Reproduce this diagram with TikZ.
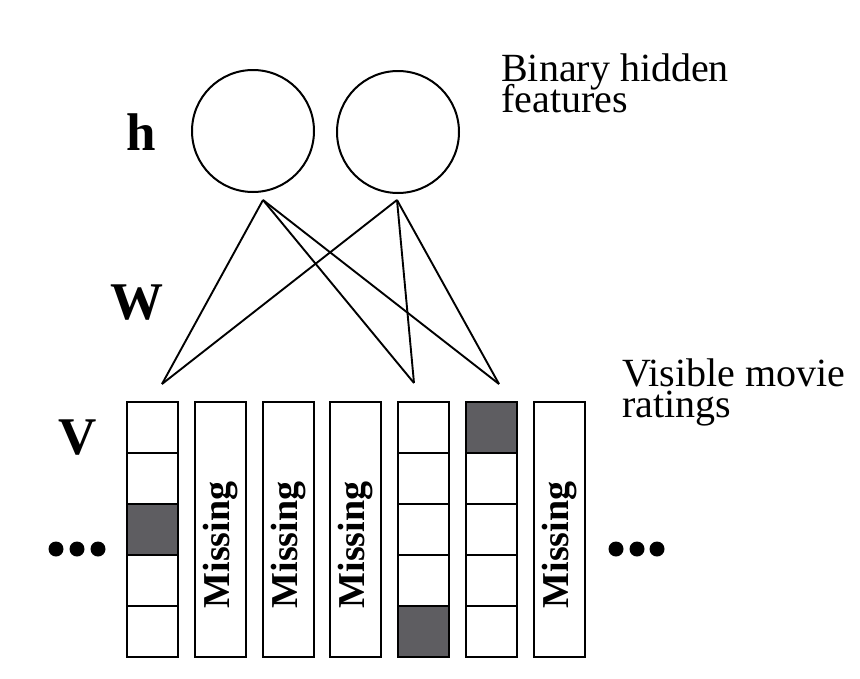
\documentclass[tikz,border=0pt]{standalone}
\usepackage{fontspec}
\setmainfont{Liberation Serif}
\definecolor{cellgray}{RGB}{94,93,97}
\newcommand\mynotefont{\fontsize{40}{30.5}\selectfont\lineskiplimit=-100pt\relax\lineskip=0pt\relax}
\begin{document}
\begin{tikzpicture}[x=1pt,y=-1pt,
  unit/.style={circle,draw,line width=2pt,minimum size=122pt,inner sep=0pt},
  cell/.style={rectangle,draw,line width=2pt,minimum width=51pt,minimum height=51pt,inner sep=0pt},
  tallcell/.style={rectangle,draw,line width=2pt,minimum width=51pt,minimum height=255pt,inner sep=0pt},
  filled/.style={fill=cellgray},
  wire/.style={line width=1.9pt,line join=miter},
  biglabel/.style={font=\bfseries\fontsize{53}{53}\selectfont,inner sep=0pt,anchor=base},
  note/.style={font=\mynotefont,align=left,inner sep=0pt,anchor=north west},
  misstext/.style={font=\bfseries\fontsize{38}{38}\selectfont,rotate=90,inner sep=0pt},
  dot/.style={circle,fill=black,minimum size=15pt,inner sep=0pt}]
\useasboundingbox[fill=white] (0,0) rectangle (860,678);

% hidden units
\node[unit] (h1) at (253,131) {};
\node[unit] (h2) at (398,132) {};

% labels
\node[biglabel] (lh) at (141.5,150) {h};
\node[biglabel] (lw) at (136.5,319) {W};
\node[biglabel] (lv) at (77.5,454) {V};
\node[note] (lbin) at (501,54) {Binary hidden\\features};
\node[note] (lvis) at (622,359) {Visible movie\\ratings};

% connector end points
\coordinate (a1) at (263,200);
\coordinate (a2) at (397,200);
\coordinate (t1) at (162,384);
\coordinate (t2) at (414,383);
\coordinate (t3) at (499,384);

\foreach \s in {a1,a2}{
  \foreach \t in {t1,t2,t3}{
    \draw[wire] (\s) -- (\t);
  }
}

% columns
\foreach \i/\x in {1/152.5,5/423.7,6/491.5}{
  \foreach \j in {1,...,5}{
    \node[cell] (c\i-\j) at (\x,{402+25.5+51*(\j-1)}) {};
  }
}
\node[cell,filled] at (c1-3) {};
\node[cell,filled] at (c5-5) {};
\node[cell,filled] at (c6-1) {};

\foreach \i/\x in {2/220.3,3/288.1,4/355.9,7/559.3}{
  \node[tallcell] (c\i) at (\x,529.5) {};
  \node[misstext] (m\i) at (\x,545) {Missing};
}

% dots
\node[dot] (d1) at (56,549) {};
\node[dot] (d2) at (77,549) {};
\node[dot] (d3) at (98,549) {};
\node[dot] (d4) at (616,549) {};
\node[dot] (d5) at (637,549) {};
\node[dot] (d6) at (657,549) {};
\end{tikzpicture}
\end{document}
